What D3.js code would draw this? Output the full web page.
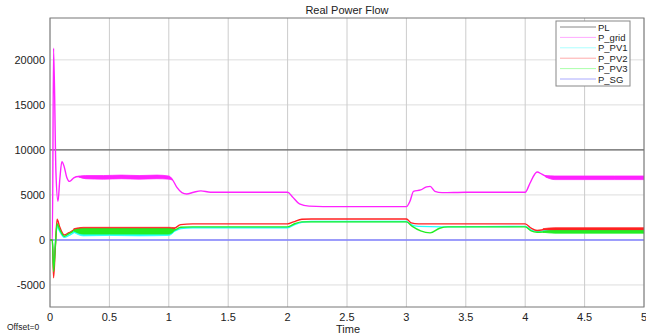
<!DOCTYPE html>
<html>
<head>
<meta charset="utf-8">
<script src="https://cdn.jsdelivr.net/npm/d3@7"></script>
<style>
  body { margin: 0; background: #fff; }
  text { font-family: 'Liberation Sans', Arial, sans-serif; }
</style>
</head>
<body>
<div id="root"></div>
<script>
const width = 646
const height = 335

// x ticks / y ticks
const xTicks = [0, 0.5, 1, 1.5, 2, 2.5, 3, 3.5, 4, 4.5, 5]
const yTicks = [-5000, 0, 5000, 10000, 15000, 20000]

const seriesNames = ['PL', 'P_grid', 'P_PV1', 'P_PV2', 'P_PV3', 'P_SG']
const lineColors = ['#666666', '#ff22ff', '#22ffff', '#ff2222', '#22ee22', '#8080ff']
const legendColors = ['#888888', '#ffaaff', '#aaffff', '#ffaaaa', '#aaffaa', '#aaaaff']

// [time, power]
const pL = [[0, 10000], [5, 10000]]
const pSG = [[0, 0], [5, 0]]
const pGrid = [
  [0, 0], [0.02, 0], [0.03, 21300], [0.05, 7500], [0.067, 4300], [0.083, 6800], [0.1, 8700],
  [0.118, 8200], [0.14, 7000], [0.165, 6500], [0.2, 6900], [0.24, 7050], [0.3, 6900],
  [1.0, 6950], [1.03, 6700], [1.07, 5800], [1.11, 5250], [1.15, 5100], [1.21, 5300], [1.27, 5450],
  [1.35, 5300], [2.0, 5300], [2.04, 4800], [2.1, 4000], [2.18, 3750], [2.3, 3700],
  [3.0, 3700], [3.03, 4300], [3.06, 5400], [3.12, 5550], [3.17, 5900], [3.2, 5950],
  [3.24, 5400], [3.3, 5250], [3.5, 5300], [4.0, 5300], [4.04, 6300], [4.08, 7300],
  [4.1, 7550], [4.14, 7300], [4.2, 6950], [5, 6900]
]
const pPV1 = [
  [0, 0], [0.02, 0], [0.03, -3000], [0.045, -500], [0.06, 1500], [0.08, 1000], [0.12, 300],
  [0.16, 500], [0.22, 900], [0.3, 850], [1.0, 850], [1.05, 1000], [1.1, 1250], [1.2, 1350],
  [2.0, 1350], [2.06, 1700], [2.12, 1950], [2.2, 2050], [3.0, 2050], [3.04, 1700],
  [3.1, 1500], [3.3, 1450], [4.0, 1500], [4.05, 1100], [4.1, 950], [4.2, 1000], [5, 1000]
]
const pPV2 = [
  [0, 0], [0.02, 0], [0.03, -4200], [0.045, -800], [0.06, 2300], [0.08, 1500], [0.12, 550],
  [0.16, 800], [0.22, 1200], [0.3, 1100], [1.0, 1100], [1.05, 1300], [1.1, 1700], [1.2, 1780],
  [2.0, 1780], [2.05, 2000], [2.12, 2300], [2.2, 2330], [3.0, 2330], [3.04, 1900],
  [3.1, 1780], [4.0, 1780], [4.05, 1300], [4.1, 1050], [4.2, 1200], [5, 1220]
]
const pPV3 = [
  [0, 0], [0.02, 0], [0.03, -3500], [0.045, -600], [0.06, 1800], [0.08, 1200], [0.12, 400],
  [0.16, 700], [0.22, 1050], [0.3, 1000], [1.0, 950], [1.05, 1100], [1.1, 1400], [1.2, 1450],
  [2.0, 1450], [2.06, 1800], [2.12, 2000], [2.2, 2000], [3.0, 2000], [3.05, 1500],
  [3.12, 1000], [3.2, 780], [3.28, 1300], [3.35, 1450], [4.0, 1450], [4.05, 1000],
  [4.1, 850], [4.2, 900], [5, 900]
]
const seriesData = [pL, pGrid, pPV1, pPV2, pPV3, pSG]

// oscillation envelopes [time, low, high], two stretches each
const gridBand = [
  [[0.24, 7000, 7080], [0.3, 6800, 7150], [0.45, 6750, 7150], [0.6, 6800, 7200], [0.75, 6750, 7150],
    [0.9, 6800, 7200], [1.0, 6750, 7100], [1.03, 6650, 6750]],
  [[4.17, 7000, 7150], [4.25, 6700, 7100], [4.5, 6700, 7100], [4.75, 6700, 7100], [5, 6700, 7100]]
]
const pv1Band = [
  [[0.2, 850, 950], [0.28, 450, 1100], [0.5, 500, 1150], [0.75, 450, 1100], [1.0, 500, 1150], [1.05, 950, 1050]],
  [[4.15, 950, 1000], [4.25, 850, 1150], [5, 850, 1150]]
]
const pv2Band = [
  [[0.2, 1150, 1250], [0.28, 850, 1400], [0.5, 850, 1400], [0.75, 850, 1400], [1.0, 850, 1400], [1.05, 1250, 1350]],
  [[4.15, 1150, 1250], [4.25, 1050, 1350], [5, 1050, 1350]]
]
const pv3Band = [
  [[0.2, 1000, 1100], [0.28, 650, 1250], [0.5, 650, 1250], [0.75, 650, 1250], [1.0, 650, 1250], [1.05, 1050, 1150]],
  [[4.15, 850, 950], [4.25, 750, 1050], [5, 750, 1050]]
]
const bands = [[pv1Band, 2], [pv2Band, 3], [pv3Band, 4], [gridBand, 1]]

const margin = { left: 50, right: 2, top: 18, bottom: 28 }
const x = d3.scaleLinear().domain([0, 5]).range([margin.left, width - margin.right])
const y = d3.scaleLinear().domain([-7450, 24650]).range([height - margin.bottom, margin.top])

const svg = d3.select('#root').append('svg').attr('width', width).attr('height', height)

svg.append('defs').append('clipPath').attr('id', 'clip')
  .append('rect')
  .attr('x', x(0)).attr('y', y.range()[1])
  .attr('width', x(5) - x(0)).attr('height', y.range()[0] - y.range()[1])

// grid
svg.append('g')
  .selectAll('line')
  .data(yTicks)
  .join('line')
  .attr('x1', x(0)).attr('x2', x(5))
  .attr('y1', (d) => y(d)).attr('y2', (d) => y(d))
  .attr('stroke', '#dddddd')
svg.append('g')
  .selectAll('line')
  .data(xTicks)
  .join('line')
  .attr('y1', y.range()[0]).attr('y2', y.range()[1])
  .attr('x1', (d) => x(d)).attr('x2', (d) => x(d))
  .attr('stroke', '#cccccc')

const plot = svg.append('g').attr('clip-path', 'url(#clip)')

const line = d3.line().curve(d3.curveMonotoneX).x((d) => x(d[0])).y((d) => y(d[1]))
const area = d3.area().curve(d3.curveMonotoneX).x((d) => x(d[0])).y0((d) => y(d[1])).y1((d) => y(d[2]))

const drawOrder = [0, 5, 1, 2, 3, 4]
drawOrder.forEach((i) => {
  plot.append('path')
    .datum(seriesData[i])
    .attr('fill', 'none')
    .attr('stroke', lineColors[i])
    .attr('stroke-width', i === 0 ? 1.2 : 1.4)
    .attr('d', line)
})

bands.forEach(([b, i]) => {
  b.forEach((part) => {
    plot.append('path')
      .datum(part)
      .attr('fill', lineColors[i])
      .attr('stroke', lineColors[i])
      .attr('stroke-width', 0.8)
      .attr('d', area)
  })
})

// frame
svg.append('rect')
  .attr('x', x(0)).attr('y', y.range()[1])
  .attr('width', x(5) - x(0)).attr('height', y.range()[0] - y.range()[1])
  .attr('fill', 'none')
  .attr('stroke', '#777777')

// y tick labels
svg.append('g')
  .selectAll('text')
  .data(yTicks)
  .join('text')
  .attr('x', x(0) - 5)
  .attr('y', (d) => y(d) + 4)
  .attr('text-anchor', 'end')
  .attr('font-size', 11)
  .attr('fill', '#222')
  .text((d) => d)

// x tick labels
svg.append('g')
  .selectAll('text')
  .data(xTicks)
  .join('text')
  .attr('x', (d) => x(d))
  .attr('y', y.range()[0] + 14)
  .attr('text-anchor', 'middle')
  .attr('font-size', 11)
  .attr('fill', '#222')
  .text((d) => d)

svg.append('text')
  .attr('x', 347).attr('y', 14)
  .attr('text-anchor', 'middle')
  .attr('font-size', 11)
  .attr('fill', '#222')
  .text('Real Power Flow')

svg.append('text')
  .attr('x', 348).attr('y', 333)
  .attr('text-anchor', 'middle')
  .attr('font-size', 11)
  .attr('fill', '#222')
  .text('Time')

svg.append('text')
  .attr('x', 7).attr('y', 330)
  .attr('font-size', 8.5)
  .attr('fill', '#222')
  .text('Offset=0')

// legend
const legend = svg.append('g').attr('transform', 'translate(556, 21)')
legend.append('rect')
  .attr('width', 74).attr('height', 65)
  .attr('fill', '#fff')
  .attr('stroke', '#888')
const entry = legend.selectAll('g')
  .data(seriesNames)
  .join('g')
  .attr('transform', (d, i) => `translate(0, ${6 + i * 10.4})`)
entry.append('line')
  .attr('x1', 4).attr('x2', 40)
  .attr('stroke', (d, i) => legendColors[i])
entry.append('text')
  .attr('x', 42).attr('y', 3.5)
  .attr('font-size', 9.5)
  .attr('fill', '#222')
  .text((d) => d)
</script>
</body>
</html>
